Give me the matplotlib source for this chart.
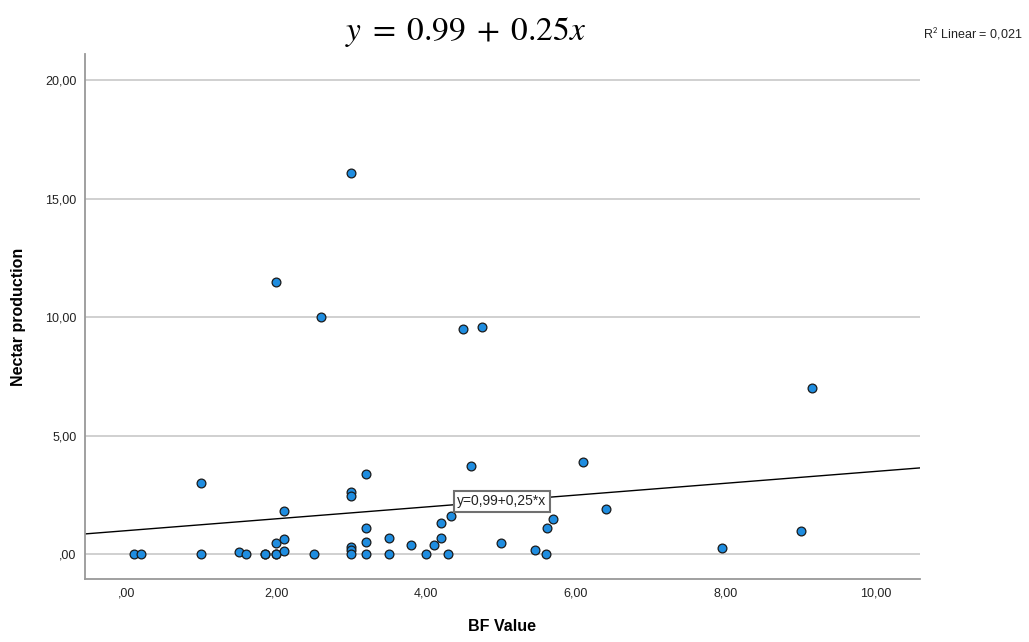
import numpy as np
import matplotlib
matplotlib.use("Agg")
from matplotlib import pyplot as plt

plt.rcParams["font.family"] = ["Liberation Sans", "DejaVu Sans"]
plt.rcParams["mathtext.fontset"] = "stix"

# BF value vs nectar production
bf_value = [0.1, 0.2, 1.0, 1.0, 1.5, 1.6, 1.85, 1.85, 2.0, 2.0, 2.0, 2.1, 2.1, 2.1,
            2.5, 3.0, 3.0, 3.0, 3.0, 3.0, 3.2, 3.2, 3.2, 3.2, 3.5, 3.5, 3.8, 4.0,
            4.1, 4.2, 4.2, 4.33, 4.3, 4.6, 5.0, 5.45, 5.6, 5.62, 5.7, 6.1, 6.4,
            7.95, 9.0, 9.15, 3.0, 2.0, 2.6, 4.5, 4.75]
nectar = [0.0, 0.0, 3.0, 0.0, 0.1, 0.0, 0.0, 0.0, 0.0, 0.0, 0.45, 0.63, 0.12, 1.8,
          0.0, 2.63, 2.45, 0.28, 0.18, 0.0, 3.36, 1.1, 0.5, 0.0, 0.7, 0.0, 0.4, 0.0,
          0.38, 0.68, 1.3, 1.6, 0.0, 3.7, 0.45, 0.16, 0.0, 1.1, 1.5, 3.9, 1.9,
          0.25, 0.97, 7.0, 16.1, 11.5, 10.0, 9.5, 9.6]

intercept = 0.99
slope = 0.25
r2 = 0.021

x_ticks = [0, 2, 4, 6, 8, 10]
x_tick_labels = [",00", "2,00", "4,00", "6,00", "8,00", "10,00"]
y_ticks = [0, 5, 10, 15, 20]
y_tick_labels = [",00", "5,00", "10,00", "15,00", "20,00"]

fig = plt.figure(figsize=(10.29, 6.42), dpi=100)
ax = fig.add_axes([0.0826, 0.0981, 0.8114, 0.8178])

xmin, xmax = -0.55, 10.59
ax.set_xlim(xmin, xmax)
ax.set_ylim(-1.05, 21.1)

for yt in y_ticks:
    ax.axhline(yt, color="#c8c8c8", lw=1.2, zorder=1)

xs = np.array([xmin, xmax])
ax.plot(xs, intercept + slope * xs, color="black", lw=1.0, zorder=2)

ax.scatter(bf_value, nectar, s=40, color="#1f8de0", edgecolor="#1a1a1a",
           linewidth=0.9, zorder=3)

ax.text(5.01, 2.24, "y=0,99+0,25*x", fontsize=10, ha="center", va="center",
        color="#222222", zorder=4,
        bbox=dict(boxstyle="square,pad=0.25", fc="white", ec="#707070", lw=1.5))

ax.set_xticks(x_ticks)
ax.set_xticklabels(x_tick_labels)
ax.set_yticks(y_ticks)
ax.set_yticklabels(y_tick_labels)
ax.tick_params(length=0, labelsize=9, labelcolor="#222222", pad=6)

for s in ["top", "right"]:
    ax.spines[s].set_visible(False)
for s in ["left", "bottom"]:
    ax.spines[s].set_color("#999999")
    ax.spines[s].set_linewidth(1.3)

ax.set_xlabel("BF Value", fontsize=11.5, fontweight="bold", labelpad=14)
ax.set_ylabel("Nectar production", fontsize=11.5, fontweight="bold", labelpad=14)

fig.text(466 / 1029, 1 - 32 / 642, r"$y\;=\;0.99\;+\;0.25x$", fontsize=24,
         ha="center", va="center")
fig.text(1022 / 1029, 1 - 34 / 642, "R$^{\\mathsf{2}}$ Linear = 0,021", fontsize=9,
         ha="right", va="center", color="#222222")

plt.savefig("out.png", dpi=100)
plt.close()
